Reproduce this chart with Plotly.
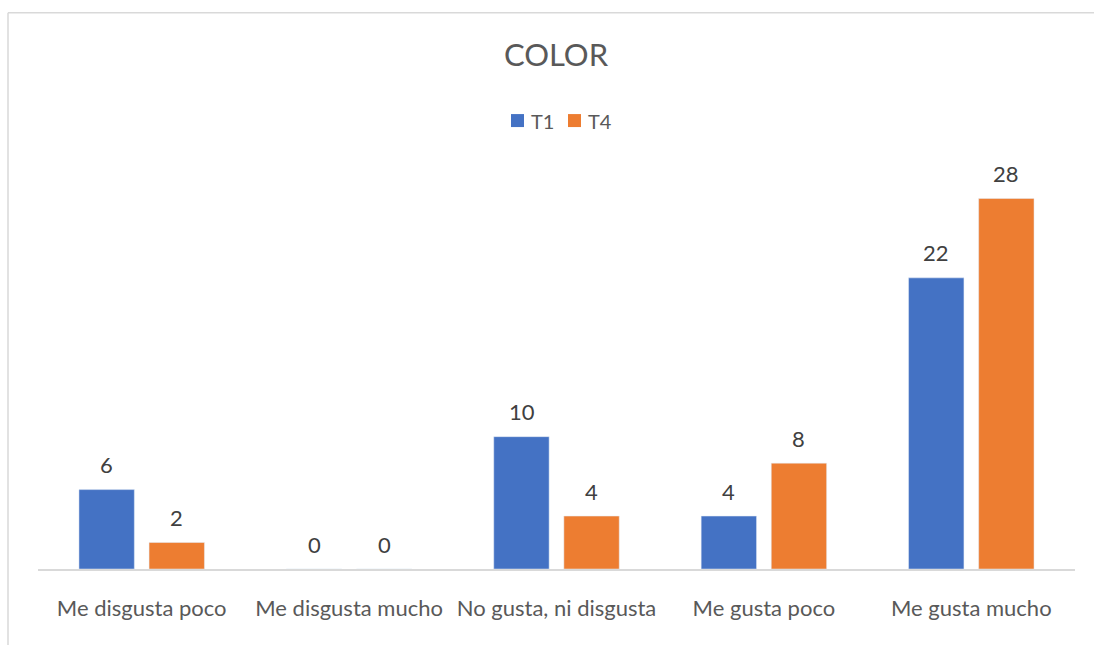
import plotly.graph_objects as go

# Survey answers for the "COLOR" attribute
categories = ["Me disgusta poco", "Me disgusta mucho", "No gusta, ni disgusta",
              "Me gusta poco", "Me gusta mucho"]
series_names = ["T1", "T4"]
t1_values = [6, 0, 10, 4, 22]
t4_values = [2, 0, 4, 8, 28]

BLUE = "#4472C4"
ORANGE = "#ED7D31"
FONT = "Lato"

W, H = 1094, 645
ML, MR, MT, MB = 38, 19, 171.5, 76
Y_MAX = 30

fig = go.Figure()
fig.add_trace(go.Bar(name=series_names[0], x=categories, y=t1_values, marker_color=BLUE))
fig.add_trace(go.Bar(name=series_names[1], x=categories, y=t4_values, marker_color=ORANGE))

pw = W - ML - MR
ph = H - MT - MB
def px_x(p):
    return (p - ML) / pw
def px_y(p):
    return (H - MB - p) / ph

# value labels above each bar
annotations = []
for vals, shift in ((t1_values, -35), (t4_values, 35)):
    for cat, v in zip(categories, vals):
        annotations.append(dict(
            x=cat, y=v, xref="x", yref="y", text=str(v), showarrow=False,
            xshift=shift, yshift=25, yanchor="middle", xanchor="center",
            font=dict(family=FONT, size=22, color="#404040"),
        ))

# chart frame: top and left edges
shapes = [
    dict(type="line", xref="paper", yref="paper",
         x0=px_x(8), x1=px_x(1120), y0=px_y(12), y1=px_y(12),
         line=dict(color="#d9d9d9", width=1.5), layer="below"),
    dict(type="line", xref="paper", yref="paper",
         x0=px_x(8), x1=px_x(8), y0=px_y(12), y1=px_y(670),
         line=dict(color="#d9d9d9", width=1.5), layer="below"),
]

# compact legend: square swatch followed by the series name
legend_items = [(series_names[0], BLUE, 511), (series_names[1], ORANGE, 568)]
for name, color, x_left in legend_items:
    shapes.append(dict(type="rect", xref="paper", yref="paper",
                       x0=px_x(x_left), x1=px_x(x_left + 13),
                       y0=px_y(126.5), y1=px_y(113.5),
                       line=dict(width=0), fillcolor=color))
    annotations.append(dict(x=px_x(x_left + 18), y=px_y(120), xref="paper", yref="paper",
                            text=name, showarrow=False, xanchor="left", yanchor="middle",
                            font=dict(family=FONT, size=20, color="#595959")))

fig.update_layout(
    width=W, height=H,
    margin=dict(l=ML, r=MR, t=MT, b=MB),
    paper_bgcolor="white", plot_bgcolor="white",
    barmode="group", bargap=0.324, bargroupgap=0.21,
    title=dict(text="COLOR", x=556 / W, xanchor="center", y=1 - 55 / H, yanchor="middle",
               font=dict(family=FONT, size=31, color="#595959")),
    showlegend=False,
    xaxis=dict(showline=True, linecolor="#d9d9d9", linewidth=1.5, ticks="",
               tickfont=dict(family=FONT, size=22, color="#595959"),
               ticklabelstandoff=19, showgrid=False, zeroline=False),
    yaxis=dict(range=[0, Y_MAX], visible=False, showgrid=False, zeroline=False),
    annotations=annotations,
    shapes=shapes,
)

fig.write_html("out.html")
